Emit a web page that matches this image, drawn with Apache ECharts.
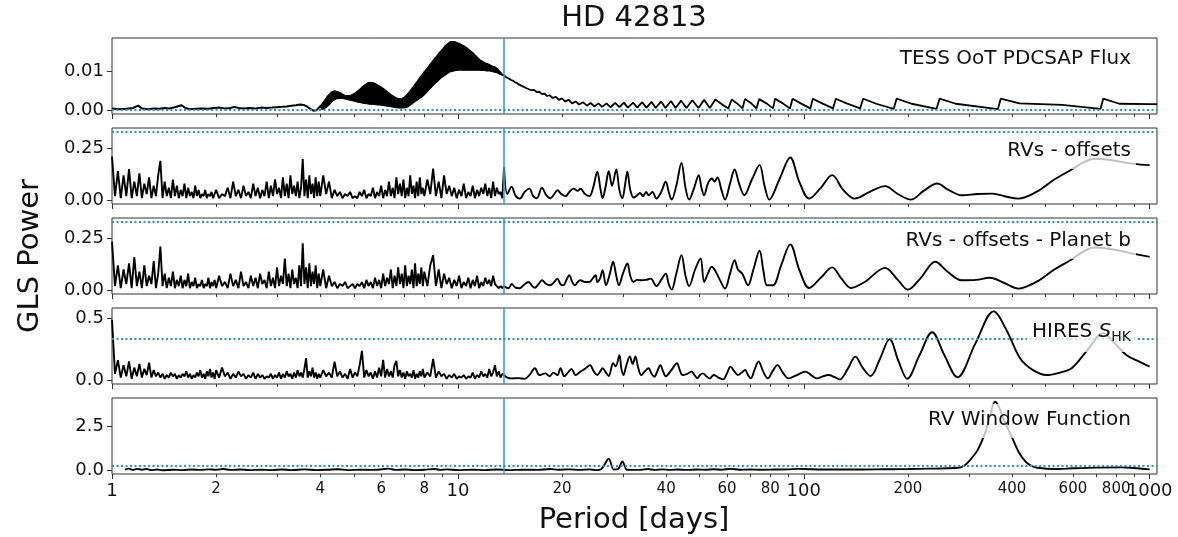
<!DOCTYPE html>
<html><head><meta charset="utf-8">
<script src="https://cdn.jsdelivr.net/npm/echarts@6/dist/echarts.min.js"></script>
<style>html,body{margin:0;padding:0;background:#fff}#c{width:1178px;height:537px}</style>
</head><body><div id="c"></div>
<script>
// ---------------- data ----------------
const chartTitle = 'HD 42813';
const xAxisTitle = 'Period [days]';
const yAxisTitle = 'GLS Power';
const panelLabels = ['TESS OoT PDCSAP Flux', 'RVs - offsets', 'RVs - offsets - Planet b', 'HIRES {s|S}{b|HK}', 'RV Window Function'];
const xMajorTicks = [1, 10, 100, 1000];
const xMinorTicks = [2,3,4,5,6,7,8,9,20,30,40,50,60,70,80,90,200,300,400,500,600,700,800,900];
const xMinorLabels = [2,4,6,8,20,40,60,80,200,400,600,800];
const yTicks = [[0,0.01],[0,0.25],[0,0.25],[0,0.5],[0,2.5]];
const yDecimals = [2,2,2,1,1];
const fapLevels = [0.0012, 0.334, 0.334, 0.332, 0.29];
const markedPeriod = 13.6;

// TESS periodogram
const tessLow = [[1.00,0.0004],[1.05,0.0002],[1.10,0.0003],[1.15,0.0005],[1.19,0.0011],[1.22,0.0004],[1.27,0.0002],[1.32,0.0004],[1.37,0.0003],[1.42,0.0005],[1.47,0.0004],[1.52,0.0007],[1.56,0.0010],[1.59,0.0012],[1.63,0.0005],[1.68,0.0002],[1.75,0.0003],[1.82,0.0004],[1.90,0.0003],[1.97,0.0005],[2.05,0.0006],[2.12,0.0004],[2.20,0.0005],[2.26,0.0008],[2.32,0.0005],[2.40,0.0004],[2.50,0.0005],[2.60,0.0004],[2.70,0.0006],[2.80,0.0005],[2.90,0.0006],[3.00,0.0007],[3.10,0.0008],[3.20,0.0009],[3.30,0.0011],[3.40,0.0012],[3.50,0.0014],[3.58,0.0013],[3.66,0.0009],[3.74,0.0003],[3.82,-0.0002],[3.90,-0.0001],[3.95,0.0004],[4.00,0.0010]];
// rapidly oscillating part: alternating upper / lower turning points
const tessBand = [[4.00,0.0010],[4.05,0.0002],[4.10,0.0022],[4.15,0.0006],[4.20,0.0036],[4.25,0.0014],[4.30,0.0046],[4.35,0.0024],[4.40,0.0049],[4.45,0.0029],
[4.50,0.0047],[4.55,0.0030],[4.60,0.0043],[4.65,0.0030],[4.70,0.0038],[4.75,0.0028],[4.80,0.0037],[4.85,0.0026],[4.90,0.0038],[4.95,0.0024],
[5.00,0.0042],[5.05,0.0022],[5.10,0.0047],[5.15,0.0020],[5.20,0.0053],[5.25,0.0019],[5.30,0.0060],[5.35,0.0017],[5.40,0.0066],[5.45,0.0016],
[5.50,0.0070],[5.55,0.0015],[5.60,0.0071],[5.65,0.0015],[5.70,0.0070],[5.75,0.0014],[5.80,0.0067],[5.85,0.0013],[5.90,0.0063],[5.95,0.0013],
[6.00,0.0059],[6.05,0.0012],[6.10,0.0055],[6.15,0.0011],[6.20,0.0050],[6.25,0.0010],[6.30,0.0045],[6.35,0.0009],[6.40,0.0040],[6.45,0.0008],
[6.50,0.0036],[6.55,0.0007],[6.60,0.0032],[6.65,0.0006],[6.70,0.0030],[6.75,0.0005],[6.80,0.0029],[6.85,0.0005],[6.90,0.0030],[6.95,0.0005],
[7.00,0.0033],[7.05,0.0006],[7.10,0.0038],[7.15,0.0008],[7.20,0.0044],[7.25,0.0011],[7.30,0.0051],[7.35,0.0015],[7.40,0.0058],[7.45,0.0019],
[7.50,0.0065],[7.55,0.0023],[7.60,0.0072],[7.65,0.0026],[7.70,0.0079],[7.75,0.0030],[7.80,0.0086],[7.85,0.0033],[7.90,0.0092],[7.95,0.0037],
[8.00,0.0099],[8.05,0.0042],[8.10,0.0105],[8.15,0.0047],[8.20,0.0111],[8.25,0.0052],[8.30,0.0117],[8.35,0.0057],[8.40,0.0123],[8.45,0.0062],
[8.50,0.0129],[8.55,0.0067],[8.60,0.0135],[8.65,0.0071],[8.70,0.0140],[8.75,0.0075],[8.80,0.0146],[8.85,0.0079],[8.90,0.0151],[8.95,0.0083],
[9.00,0.0156],[9.05,0.0086],[9.10,0.0161],[9.15,0.0089],[9.20,0.0166],[9.25,0.0092],[9.30,0.0170],[9.35,0.0095],[9.40,0.0173],[9.45,0.0098],
[9.50,0.0176],[9.55,0.0099],[9.60,0.0177],[9.65,0.0100],[9.70,0.0177],[9.75,0.0101],[9.80,0.0176],[9.85,0.0102],[9.90,0.0175],[9.95,0.0102],
[10.0,0.0173],[10.05,0.0103],[10.1,0.0172],[10.15,0.0103],[10.2,0.0170],[10.25,0.0103],[10.3,0.0168],[10.35,0.0103],[10.4,0.0166],[10.45,0.0103],
[10.5,0.0163],[10.55,0.0103],[10.6,0.0161],[10.65,0.0103],[10.7,0.0158],[10.75,0.0103],[10.8,0.0155],[10.85,0.0103],[10.9,0.0152],[10.95,0.0103],
[11.0,0.0149],[11.05,0.0103],[11.1,0.0146],[11.15,0.0103],[11.2,0.0142],[11.25,0.0103],[11.3,0.0139],[11.35,0.0103],[11.4,0.0135],[11.45,0.0103],
[11.5,0.0132],[11.55,0.0103],[11.6,0.0129],[11.65,0.0102],[11.7,0.0127],[11.75,0.0102],[11.8,0.0125],[11.85,0.0102],[11.9,0.0123],[11.95,0.0102],
[12.0,0.0121],[12.1,0.0101],[12.2,0.0119],[12.3,0.0101],[12.4,0.0116],[12.5,0.0100],[12.6,0.0113],[12.7,0.0098],[12.8,0.0111],[12.9,0.0097],
[13.0,0.0107],[13.1,0.0095],[13.2,0.0100],[13.3,0.0092],[13.4,0.0094],[13.5,0.0090],[13.6,0.0089]];
const tessTail = [[13.6,0.0089],[13.8,0.0084],[14.0,0.0082],[14.2,0.0078],[14.4,0.0076],[14.6,0.0072],[14.8,0.0070],[15.0,0.0066],[15.2,0.0065],[15.4,0.0061],[15.6,0.0060],[15.8,0.0056],[16.0,0.0056],[16.3,0.0051],[16.6,0.0052],[16.9,0.0046],[17.2,0.0047],[17.5,0.0041],[17.8,0.0042],[18.1,0.0036],[18.4,0.0038],[18.8,0.0031],[19.2,0.0034],[19.6,0.0026],[20.0,0.0030],[20.4,0.0022],[20.9,0.0026],[21.4,0.0017],[21.9,0.0022],[22.4,0.0014],[23.0,0.0020],[23.6,0.0011],[24.2,0.0018],[24.8,0.0009],[25.5,0.0017],[26.1,0.0008],[26.9,0.0017],[27.6,0.0007],[28.5,0.0018],[29.3,0.0007],[30.2,0.0019],[31.0,0.0006],[32.1,0.0019],[33.0,0.0006],[34.1,0.0020],[35.1,0.0006],[36.3,0.0021],[37.3,0.0005],[38.7,0.0022],[39.8,0.0005],[41.3,0.0023],[42.6,0.0005],[44.2,0.0024],[45.8,0.0005],[47.6,0.0025],[49.6,0.0005],[51.5,0.0026],[53.5,0.0005],[55.5,0.0027],[58.5,0.0012],[60.5,0.0004],[61.9,0.0027],[64.5,0.0015],[66.5,0.0004],[67.6,0.0028],[70.5,0.0017],[73.0,0.0004],[74.3,0.0028],[78,0.0017],[81.5,0.0004],[82.6,0.0029],[87,0.0017],[91.2,0.0004],[92.8,0.0029],[98,0.0017],[104.5,0.0004],[106.2,0.0029],[113,0.0017],[121.5,0.0004],[123.8,0.0029],[133,0.0017],[145.5,0.0004],[148.5,0.0029],[162,0.0016],[182,0.0003],[185.5,0.0029],[205,0.0016],[242,0.0003],[247,0.0029],[275,0.0016],[364,0.0002],[371,0.0029],[420,0.0017],[558,0.0013],[721,0.0003],[734,0.0029],[817,0.0016],[1000,0.0015],[1050,0.0015]];

// shared period grid of the short-period (noisy) part of the RV / S_HK periodograms
const noisePeriods = [
1.00,1.02,1.04,1.06,1.08,1.10,1.12,1.14,1.16,1.18,
1.20,1.22,1.24,1.26,1.28,1.30,1.32,1.34,1.36,1.38,
1.40,1.42,1.44,1.46,1.48,1.50,1.52,1.54,1.56,1.58,
1.60,1.62,1.64,1.66,1.68,1.70,1.72,1.74,1.76,1.78,
1.80,1.82,1.84,1.86,1.88,1.90,1.92,1.94,1.96,1.98,
2.00,2.04,2.08,2.12,2.16,2.20,2.24,2.28,2.32,2.36,
2.40,2.44,2.48,2.52,2.56,2.60,2.64,2.68,2.72,2.76,
2.80,2.84,2.88,2.92,2.96,3.00,3.04,3.08,3.12,3.16,
3.20,3.24,3.28,3.32,3.36,3.40,3.44,3.48,3.52,3.56,
3.60,3.64,3.68,3.72,3.76,3.80,3.84,3.88,3.92,3.96,
4.00,4.08,4.16,4.24,4.32,4.40,4.48,4.56,4.64,4.72,
4.80,4.88,4.96,5.04,5.12,5.20,5.28,5.36,5.44,5.52,
5.60,5.68,5.76,5.84,5.92,6.00,6.08,6.16,6.24,6.32,
6.40,6.48,6.56,6.64,6.72,6.80,6.88,6.96,7.04,7.12,
7.20,7.28,7.36,7.44,7.52,7.60,7.68,7.76,7.84,7.92,
8.00,8.16,8.32,8.48,8.64,8.80,8.96,9.12,9.28,9.44,
9.60,9.76,9.92,10.08,10.24,10.40,10.56,10.72,10.88,11.04,
11.20,11.36,11.52,11.68,11.84,12.00,12.16,12.32,12.48,12.64,
12.80,12.96,13.12,13.28,13.44,13.60];

const rvNoise = [
0.21,0.02,0.14,0.01,0.12,0.02,0.15,0.01,0.09,0.02,
0.13,0.01,0.08,0.03,0.11,0.01,0.07,0.02,0.12,0.19,
0.01,0.09,0.02,0.06,0.01,0.10,0.02,0.07,0.01,0.05,
0.02,0.08,0.01,0.06,0.02,0.04,0.01,0.07,0.02,0.05,
0.01,0.03,0.02,0.05,0.01,0.03,0.02,0.04,0.01,0.03,
0.05,0.01,0.03,0.02,0.06,0.01,0.09,0.02,0.05,0.01,
0.07,0.02,0.04,0.01,0.08,0.02,0.06,0.01,0.05,0.02,
0.09,0.01,0.07,0.02,0.10,0.03,0.06,0.01,0.11,0.02,
0.08,0.01,0.12,0.03,0.07,0.02,0.09,0.01,0.06,0.198,
0.02,0.10,0.01,0.12,0.03,0.08,0.01,0.11,0.02,0.09,
0.02,0.12,0.03,0.09,0.01,0.05,0.02,0.04,0.01,0.03,
0.02,0.04,0.01,0.02,0.01,0.04,0.02,0.05,0.01,0.03,
0.02,0.06,0.01,0.04,0.02,0.07,0.01,0.05,0.02,0.09,
0.02,0.06,0.01,0.11,0.03,0.08,0.02,0.10,0.01,0.06,
0.02,0.12,0.03,0.07,0.01,0.09,0.02,0.11,0.03,0.06,
0.02,0.10,0.03,0.153,0.02,0.09,0.01,0.12,0.03,0.07,
0.02,0.06,0.01,0.05,0.02,0.08,0.01,0.04,0.02,0.07,
0.01,0.05,0.02,0.06,0.03,0.08,0.02,0.06,0.01,0.09,
0.02,0.06,0.03,0.04,0.01,0.16];
const rvLong = [[13.6,0.16],[13.9,0.03],[14.3,0.065],[14.7,0.02],[15.1,0.008],[15.6,0.04],[16.1,0.056],[16.5,0.02],[16.9,0.01],[17.5,0.06],[18.0,0.025],[18.5,0.01],[19.0,0.03],[19.4,0.048],[19.9,0.03],[20.5,0.02],[21.0,0.04],[21.6,0.056],[22.2,0.045],[22.6,0.056],[23.3,0.03],[24.0,0.02],[24.6,0.06],[25.3,0.137],[25.8,0.06],[26.2,0.01],[26.7,0.06],[27.3,0.14],[27.9,0.07],[28.7,0.148],[29.3,0.05],[29.9,0.01],[30.4,0.07],[30.9,0.137],[31.5,0.05],[32.2,0.013],[33.0,0.024],[33.6,0.035],[34.3,0.02],[35.0,0.04],[35.6,0.024],[36.5,0.04],[37.5,0.008],[38.7,0.04],[39.9,0.089],[40.7,0.04],[41.5,0.003],[42.8,0.07],[44.3,0.18],[45.5,0.06],[46.6,0.003],[48.2,0.06],[49.7,0.121],[50.6,0.06],[51.5,0.024],[52.8,0.08],[54.2,0.105],[55.2,0.09],[56.3,0.11],[57.8,0.05],[59.2,0.003],[61.2,0.08],[63.1,0.148],[65.0,0.08],[67.3,0.024],[70.8,0.1],[74.5,0.169],[77.0,0.07],[79.5,0.003],[85.0,0.1],[91.4,0.206],[97.0,0.09],[103.7,0.008],[112,0.06],[120.8,0.121],[130,0.05],[140.5,0.008],[155,0.04],[171.8,0.068],[187,0.03],[204,0.003],[222,0.045],[243,0.081],[262,0.05],[286,0.024],[318,0.03],[351,0.032],[383,0.018],[417,0.008],[470,0.04],[530,0.1],[595,0.148],[640,0.18],[692,0.2],[760,0.195],[826,0.185],[900,0.175],[1000,0.169]];

const rvResNoise = [
0.234,0.02,0.12,0.01,0.10,0.03,0.13,0.01,0.16,0.02,
0.09,0.01,0.12,0.02,0.07,0.03,0.14,0.01,0.08,0.21,
0.02,0.08,0.01,0.06,0.02,0.09,0.01,0.05,0.02,0.07,
0.01,0.05,0.02,0.08,0.01,0.04,0.02,0.06,0.01,0.03,
0.02,0.05,0.01,0.03,0.02,0.06,0.01,0.04,0.02,0.05,
0.01,0.07,0.02,0.04,0.01,0.08,0.02,0.05,0.01,0.09,
0.02,0.04,0.01,0.07,0.02,0.06,0.01,0.08,0.03,0.05,
0.01,0.09,0.02,0.06,0.01,0.11,0.02,0.07,0.03,0.153,
0.02,0.08,0.01,0.10,0.03,0.06,0.01,0.12,0.02,0.226,
0.03,0.11,0.01,0.13,0.02,0.09,0.03,0.12,0.01,0.08,
0.02,0.10,0.01,0.07,0.02,0.04,0.01,0.03,0.02,0.04,
0.01,0.02,0.03,0.01,0.03,0.02,0.04,0.01,0.05,0.02,
0.04,0.01,0.06,0.02,0.05,0.01,0.08,0.02,0.06,0.03,
0.10,0.01,0.07,0.02,0.11,0.03,0.08,0.01,0.12,0.02,
0.07,0.03,0.10,0.01,0.13,0.02,0.08,0.03,0.11,0.02,
0.09,0.02,0.12,0.169,0.02,0.10,0.01,0.08,0.03,0.06,
0.01,0.05,0.02,0.07,0.01,0.04,0.02,0.06,0.01,0.05,
0.02,0.07,0.01,0.04,0.02,0.06,0.03,0.05,0.02,0.07,
0.03,0.02,0.01,0.02,0.01,0.02];
const rvResLong = [[13.6,0.02],[14.0,0.01],[14.3,0.03],[14.7,0.012],[15.1,0.01],[15.5,0.025],[16.0,0.04],[16.4,0.02],[16.7,0.012],[17.1,0.03],[17.5,0.048],[18.0,0.03],[18.5,0.024],[19.0,0.04],[19.4,0.056],[19.8,0.03],[20.2,0.024],[20.6,0.05],[21.0,0.073],[21.4,0.04],[21.8,0.024],[22.2,0.04],[22.6,0.048],[23.3,0.04],[24.0,0.04],[24.6,0.06],[25.0,0.073],[25.3,0.04],[25.8,0.06],[26.2,0.097],[26.8,0.024],[27.5,0.08],[28.1,0.137],[28.7,0.07],[29.2,0.024],[30.0,0.08],[30.9,0.129],[31.5,0.07],[32.2,0.04],[33.0,0.05],[33.9,0.048],[35.0,0.05],[36.1,0.056],[37.5,0.02],[38.7,0.05],[39.9,0.08],[40.7,0.03],[41.5,0.003],[42.8,0.08],[44.3,0.169],[45.5,0.07],[46.6,0.02],[48.5,0.1],[50.3,0.153],[51.5,0.04],[52.8,0.08],[54.2,0.113],[55.3,0.097],[57.2,0.05],[59.2,0.008],[61.2,0.08],[63.1,0.145],[64.5,0.1],[66.4,0.08],[69.0,0.024],[71.5,0.1],[74.5,0.19],[76.5,0.09],[78.3,0.024],[81.4,0.024],[86,0.12],[91.4,0.221],[97,0.1],[103.7,0.011],[112,0.06],[120.8,0.11],[128,0.06],[137,0.011],[150,0.04],[171.8,0.108],[187,0.05],[200,0.003],[218,0.06],[240,0.137],[260,0.09],[286,0.048],[315,0.05],[345,0.06],[380,0.035],[417,0.008],[470,0.04],[530,0.1],[595,0.148],[640,0.185],[692,0.206],[760,0.2],[826,0.19],[900,0.175],[1000,0.161]];

const shkNoise = [
0.486,0.05,0.16,0.02,0.12,0.03,0.15,0.01,0.10,0.03,
0.13,0.02,0.09,0.04,0.14,0.02,0.08,0.03,0.06,0.02,
0.05,0.01,0.04,0.02,0.06,0.03,0.05,0.01,0.04,0.02,
0.05,0.03,0.07,0.02,0.05,0.01,0.04,0.02,0.06,0.03,
0.08,0.02,0.05,0.01,0.07,0.03,0.09,0.02,0.06,0.01,
0.08,0.02,0.10,0.03,0.06,0.01,0.05,0.02,0.07,0.03,
0.05,0.01,0.04,0.02,0.06,0.01,0.05,0.02,0.04,0.01,
0.03,0.02,0.05,0.01,0.04,0.02,0.06,0.01,0.05,0.02,
0.07,0.03,0.05,0.01,0.06,0.02,0.08,0.03,0.06,0.02,
0.09,0.176,0.02,0.07,0.03,0.10,0.02,0.06,0.01,0.05,
0.02,0.08,0.03,0.06,0.02,0.149,0.03,0.07,0.02,0.05,
0.01,0.09,0.02,0.06,0.03,0.12,0.235,0.02,0.08,0.03,
0.06,0.01,0.07,0.02,0.10,0.03,0.162,0.02,0.09,0.03,
0.07,0.02,0.12,0.155,0.03,0.08,0.02,0.06,0.01,0.07,
0.03,0.05,0.02,0.08,0.01,0.05,0.02,0.07,0.03,0.09,
0.02,0.06,0.03,0.17,0.02,0.07,0.03,0.05,0.01,0.04,
0.02,0.05,0.01,0.03,0.02,0.04,0.01,0.03,0.02,0.06,
0.01,0.04,0.02,0.07,0.03,0.05,0.02,0.09,0.03,0.06,
0.12,0.03,0.07,0.02,0.05,0.04];
const shkLong = [[13.6,0.04],[13.9,0.02],[14.3,0.013],[15.0,0.015],[15.6,0.01],[16.1,0.04],[16.7,0.095],[17.2,0.04],[17.9,0.054],[18.4,0.03],[18.9,0.06],[19.4,0.04],[19.8,0.095],[20.3,0.03],[20.8,0.06],[21.3,0.09],[21.9,0.04],[22.6,0.068],[23.3,0.09],[24.1,0.12],[24.7,0.07],[25.3,0.04],[25.8,0.07],[26.2,0.095],[26.8,0.06],[27.3,0.032],[28.1,0.135],[28.6,0.11],[29.3,0.2],[29.7,0.09],[30.1,0.04],[30.7,0.12],[31.4,0.19],[32.0,0.13],[32.6,0.19],[33.2,0.1],[33.9,0.04],[34.7,0.07],[35.6,0.095],[36.3,0.05],[37,0.027],[37.7,0.07],[38.5,0.12],[39.2,0.07],[39.9,0.03],[41.4,0.08],[43,0.135],[43.8,0.08],[44.6,0.04],[46,0.05],[47.4,0.068],[48.3,0.04],[49.2,0.015],[50.1,0.04],[51.1,0.054],[52.3,0.03],[53.6,0.013],[54.3,0.03],[55,0.04],[56.7,0.02],[58.5,0.005],[59.9,0.05],[61.4,0.108],[63,0.07],[64.5,0.04],[66.1,0.06],[67.7,0.081],[69,0.04],[70.3,0.013],[72,0.08],[74,0.149],[76.3,0.07],[78.7,0.013],[81.2,0.07],[83.9,0.12],[87,0.06],[90.3,0.013],[95.5,0.04],[101,0.068],[105,0.04],[109,0.013],[113.5,0.03],[118,0.04],[122.5,0.025],[127,0.005],[134,0.09],[141,0.189],[148,0.1],[156,0.032],[166,0.17],[177,0.33],[188,0.15],[199,0.01],[216,0.2],[235,0.386],[255,0.2],[278,0.022],[314,0.3],[354,0.554],[386,0.4],[422,0.176],[460,0.08],[503,0.04],[550,0.06],[595,0.095],[660,0.24],[733,0.378],[790,0.3],[858,0.2],[930,0.15],[1000,0.108]];

const windowFn = [[1.09,0.05],[1.12,0.1],[1.15,0.03],[1.18,0.09],[1.22,0.04],[1.26,0.08],[1.3,0.02],[1.35,0.05],[1.4,0.01],[1.5,0.04],[1.6,0.02],[1.7,0.05],[1.8,0.03],[1.9,0.06],[2.0,0.04],[2.1,0.08],[2.2,0.03],[2.35,0.05],[2.5,0.02],[2.7,0.04],[2.9,0.02],[3.1,0.05],[3.3,0.02],[3.6,0.06],[3.9,0.02],[4.2,0.04],[4.5,0.07],[4.8,0.02],[5.2,0.04],[5.6,0.03],[6.0,0.06],[6.3,0.1],[6.6,0.03],[7.0,0.05],[7.5,0.02],[8.0,0.04],[8.6,0.08],[8.9,0.03],[9.3,0.06],[10,0.02],[11,0.04],[12,0.02],[13,0.05],[14,0.02],[15.5,0.04],[17,0.03],[18.5,0.08],[19.5,0.04],[21,0.06],[22.5,0.03],[24,0.06],[25,0.02],[26,0.08],[27.3,0.66],[28.2,0.05],[29.0,0.07],[29.9,0.51],[30.8,0.04],[32,0.03],[34,0.04],[35.5,0.08],[37,0.03],[39,0.06],[41,0.03],[43,0.05],[46,0.03],[49,0.05],[52,0.04],[55,0.07],[58,0.04],[61.5,0.09],[65,0.04],[70,0.05],[75,0.04],[82,0.05],[90,0.06],[96,0.09],[103,0.07],[112,0.05],[125,0.06],[140,0.05],[160,0.06],[180,0.07],[200,0.08],[230,0.1],[260,0.12],[280,0.15],[290,0.25],[302,0.57],[318,1.14],[334,2.08],[347,3.22],[357,3.86],[366,3.6],[379,2.84],[399,1.9],[418,1.04],[439,0.47],[456,0.25],[473,0.15],[534,0.08],[600,0.12],[700,0.16],[827,0.17],[900,0.14],[1000,0.06]];

// ---------------- layout / style ----------------
const FONT = 'DejaVu Sans';
const GL = 112, GW = 1045, GH = 76;
const tops = [38, 128, 218, 308, 398];
const yMin = [-0.00105, -0.018, -0.018, -0.032, -0.2];
const yMax = [0.0186, 0.348, 0.348, 0.581, 4.07];
const labelY = [60, 152, 242, 333, 421];
const BLUE = '#3a9de0', DOT = '#1f96c8', INK = '#111', FRAME = '#333';

const zip = (p, v) => p.map((x, k) => [x, v[k]]);
const panelSeries = [
  [{d: tessLow, w: 2, s: false}, {d: tessBand, w: 1.6, s: false}, {d: tessTail, w: 1.8, s: false}],
  [{d: zip(noisePeriods, rvNoise), w: 1.9, s: false}, {d: rvLong, w: 1.9, s: 0.35}],
  [{d: zip(noisePeriods, rvResNoise), w: 1.9, s: false}, {d: rvResLong, w: 1.9, s: 0.35}],
  [{d: zip(noisePeriods, shkNoise), w: 1.9, s: false}, {d: shkLong, w: 1.9, s: 0.35}],
  [{d: windowFn, w: 1.9, s: 0.3}]
];

const grids = [], xAxes = [], yAxes = [], series = [], graphics = [];
for (let i = 0; i < 5; i++) {
  const last = i === 4;
  grids.push({left: GL, top: tops[i], width: GW, height: GH, show: true, borderColor: FRAME, borderWidth: 1, backgroundColor: 'transparent'});
  const base = {type: 'log', logBase: 10, gridIndex: i, min: 1, max: 1050, position: 'bottom',
    axisLine: {show: false, onZero: false}, splitLine: {show: false}, minorTick: {show: false}};
  xAxes.push(Object.assign({}, base, {
    axisTick: {show: true, customValues: xMajorTicks, length: 5, lineStyle: {color: FRAME, width: 1}},
    axisLabel: {show: last, customValues: xMajorTicks, fontSize: 18, fontFamily: FONT, color: INK, margin: 8, formatter: v => String(v)}
  }));
  xAxes.push(Object.assign({}, base, {
    axisTick: {show: true, customValues: xMinorTicks, length: 3, lineStyle: {color: FRAME, width: 1}},
    axisLabel: {show: last, customValues: xMinorLabels, fontSize: 15, fontFamily: FONT, color: INK, margin: 8, formatter: v => String(v)}
  }));
  yAxes.push({type: 'value', gridIndex: i, min: yMin[i], max: yMax[i],
    axisLine: {show: false, onZero: false}, splitLine: {show: false},
    axisTick: {show: true, customValues: yTicks[i], length: 5, lineStyle: {color: FRAME, width: 1}},
    axisLabel: {customValues: yTicks[i], fontSize: 18, fontFamily: FONT, color: INK, margin: 8, formatter: v => v.toFixed(yDecimals[i])}
  });
  const ps = panelSeries[i];
  ps.forEach((s, k) => {
    const ser = {type: 'line', xAxisIndex: 2 * i, yAxisIndex: i, data: s.d, showSymbol: false, symbol: 'none',
      smooth: s.s, lineStyle: {color: '#000', width: s.w}, silent: true, animation: false, z: 2};
    if (k === ps.length - 1) {
      ser.markLine = {silent: true, symbol: ['none', 'none'], label: {show: false}, animation: false,
        data: [
          {xAxis: markedPeriod, lineStyle: {color: BLUE, width: 1.6, type: 'solid'}},
          {yAxis: fapLevels[i], lineStyle: {color: DOT, width: 2, type: [2, 2.5]}}
        ]};
    }
    series.push(ser);
  });
  graphics.push({type: 'text', z: 100, x: 1136, y: labelY[i], style: {
    text: panelLabels[i], font: '20px "' + FONT + '"', fill: INK, align: 'right', verticalAlign: 'middle',
    backgroundColor: 'rgba(255,255,255,0.75)', padding: [6, 5, 8, 5],
    rich: {s: {fontStyle: 'italic', fontSize: 20, fontFamily: FONT, fill: INK}, b: {fontSize: 14, fontFamily: FONT, fill: INK, padding: [10, 0, 0, 0]}}
  }});
}
// filled envelope of the unresolved fast oscillation in the TESS periodogram (vertices from tessBand via the axes)
series.push({type: 'custom', xAxisIndex: 0, yAxisIndex: 0, data: [tessBand[0]], silent: true, animation: false, z: 2,
  renderItem: function (params, api) {
    const up = [], lo = [];
    tessBand.forEach((p, k) => { (k % 2 === 0 ? up : lo).push(api.coord(p)); });
    return {type: 'polygon', shape: {points: up.concat(lo.reverse())}, style: {fill: '#000', stroke: '#000', lineWidth: 1.2}};
  }});
graphics.push({type: 'text', z: 100, x: 634, y: 18, style: {text: chartTitle, font: '29px "' + FONT + '"', fill: INK, align: 'center', verticalAlign: 'middle'}});
graphics.push({type: 'text', z: 100, x: 634, y: 520, style: {text: xAxisTitle, font: '29px "' + FONT + '"', fill: INK, align: 'center', verticalAlign: 'middle'}});
graphics.push({type: 'text', z: 100, x: 30, y: 256, rotation: Math.PI / 2, style: {text: yAxisTitle, font: '29px "' + FONT + '"', fill: INK, align: 'center', verticalAlign: 'middle'}});

const chart = echarts.init(document.getElementById('c'), null, {renderer: 'canvas'});
chart.setOption({
  animation: false, backgroundColor: '#fff', textStyle: {fontFamily: FONT},
  grid: grids, xAxis: xAxes, yAxis: yAxes, series: series, graphic: graphics
});
</script></body></html>
